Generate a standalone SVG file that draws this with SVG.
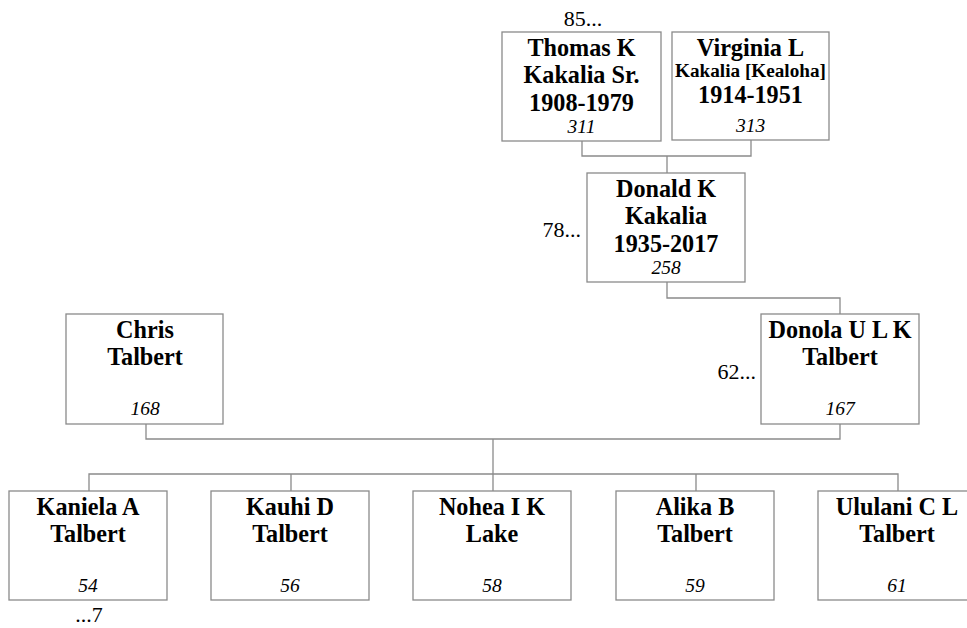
<svg xmlns="http://www.w3.org/2000/svg" width="967" height="628" viewBox="0 0 967 628">
<style>
.box{fill:#fff;stroke:#8a8a8a;stroke-width:1.3}
.ln{fill:none;stroke:#8a8a8a;stroke-width:1.3}
.nm{font-family:"Liberation Serif","Times New Roman",serif;font-weight:bold;font-size:24.2px;fill:#000;text-anchor:middle}
.sm{font-family:"Liberation Serif","Times New Roman",serif;font-weight:bold;font-size:19.2px;fill:#000;text-anchor:middle}
.id{font-family:"Liberation Serif","Times New Roman",serif;font-style:italic;font-size:19.5px;fill:#000;text-anchor:middle}
.mk{font-family:"Liberation Serif","Times New Roman",serif;font-size:22px;fill:#000}
</style>
<rect width="967" height="628" fill="#fff"/>
<g id="connectors">
<path class="ln" d="M582,141 V156 H751 V140"/>
<path class="ln" d="M667,156 V173"/>
<path class="ln" d="M667,282 V298 H840 V314"/>
<path class="ln" d="M146,424 V439 H840 V424"/>
<path class="ln" d="M493,439 V474"/>
<path class="ln" d="M89,491 V474 H898 V491"/>
<path class="ln" d="M291,474 V491 M493,474 V491 M696,474 V491"/>
</g>
<g id="thomas">
<rect class="box" x="502" y="32" width="159" height="109"/>
<text class="nm" x="581.5" y="56">Thomas K</text>
<text class="nm" x="581.5" y="83">Kakalia Sr.</text>
<text class="nm" x="581.5" y="111">1908-1979</text>
<text class="id" x="581.5" y="133">311</text>
<text class="mk" x="583" y="26" text-anchor="middle">85...</text>
</g>
<g id="virginia">
<rect class="box" x="672" y="32" width="157" height="108"/>
<text class="nm" x="750.5" y="56">Virginia L</text>
<text class="sm" x="750.5" y="77">Kakalia [Kealoha]</text>
<text class="nm" x="750.5" y="103">1914-1951</text>
<text class="id" x="750.5" y="132">313</text>
</g>
<g id="donald">
<rect class="box" x="587" y="173" width="158" height="109"/>
<text class="nm" x="666" y="197">Donald K</text>
<text class="nm" x="666" y="224">Kakalia</text>
<text class="nm" x="666" y="252">1935-2017</text>
<text class="id" x="666" y="274">258</text>
<text class="mk" x="581" y="237" text-anchor="end">78...</text>
</g>
<g id="chris">
<rect class="box" x="66" y="314" width="157" height="110"/>
<text class="nm" x="145" y="338">Chris</text>
<text class="nm" x="145" y="365">Talbert</text>
<text class="id" x="145" y="415">168</text>
</g>
<g id="donola">
<rect class="box" x="761" y="314" width="158" height="110"/>
<text class="nm" x="840" y="338">Donola U L K</text>
<text class="nm" x="840" y="365">Talbert</text>
<text class="id" x="840" y="415">167</text>
<text class="mk" x="756" y="379" text-anchor="end">62...</text>
</g>
<g id="kaniela">
<rect class="box" x="9" y="491" width="158" height="109"/>
<text class="nm" x="88" y="515">Kaniela A</text>
<text class="nm" x="88" y="542">Talbert</text>
<text class="id" x="88" y="592">54</text>
<text class="mk" x="89" y="622" text-anchor="middle">...7</text>
</g>
<g id="kauhi">
<rect class="box" x="211" y="491" width="158" height="109"/>
<text class="nm" x="290" y="515">Kauhi D</text>
<text class="nm" x="290" y="542">Talbert</text>
<text class="id" x="290" y="592">56</text>
</g>
<g id="nohea">
<rect class="box" x="413" y="491" width="158" height="109"/>
<text class="nm" x="492" y="515">Nohea I K</text>
<text class="nm" x="492" y="542">Lake</text>
<text class="id" x="492" y="592">58</text>
</g>
<g id="alika">
<rect class="box" x="616" y="491" width="158" height="109"/>
<text class="nm" x="695" y="515">Alika B</text>
<text class="nm" x="695" y="542">Talbert</text>
<text class="id" x="695" y="592">59</text>
</g>
<g id="ululani">
<rect class="box" x="818" y="491" width="158" height="109"/>
<text class="nm" x="897" y="515">Ululani C L</text>
<text class="nm" x="897" y="542">Talbert</text>
<text class="id" x="897" y="592">61</text>
</g>
</svg>
